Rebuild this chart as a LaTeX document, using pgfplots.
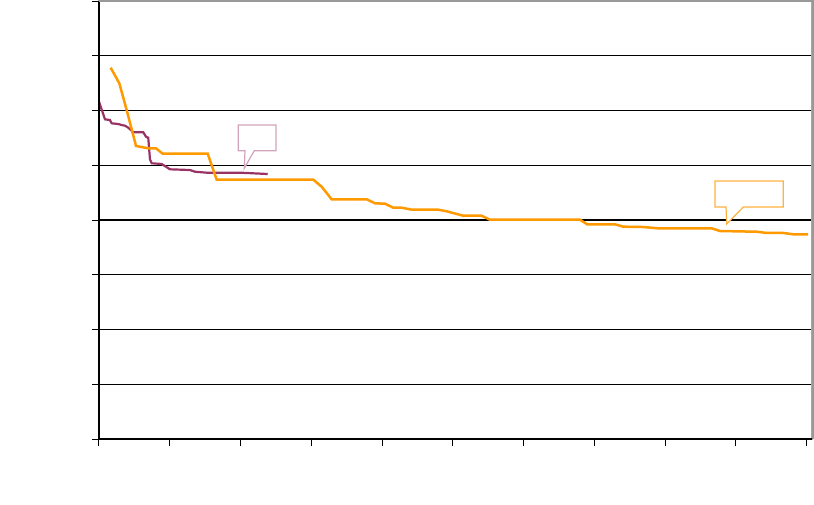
\documentclass[border=0pt]{standalone}
\usepackage{pgfplots}
\pgfplotsset{compat=1.18}
\definecolor{orng}{HTML}{FF9900}
\definecolor{plum}{HTML}{993366}
\begin{document}
\begin{tikzpicture}
\useasboundingbox (-49.5pt,-32.5pt) rectangle (357.5pt,219.5pt);
\begin{axis}[
  at={(0,0)}, anchor=south west,
  scale only axis,
  width=356.5pt, height=219pt,
  xmin=0, xmax=10.075, ymin=0, ymax=8,
  xtick={0,...,10}, ytick={0,...,8},
  xticklabels={}, yticklabels={},
  xtick pos=bottom, ytick pos=left,
  tick align=outside,
  major tick length=3.5pt,
  tick style={black, line width=0.5pt},
  ymajorgrids,
  grid style={black, line width=0.6pt},
  axis line style={gray!70, line width=0.6pt},
  clip=false,
]
\addplot[plum, line width=1.1pt] coordinates {
(0,6.161) (0.024,6.069) (0.085,5.839) (0.155,5.826) (0.179,5.766) (0.273,5.753)
(0.320,5.735) (0.368,5.722) (0.414,5.686) (0.485,5.602) (0.626,5.602) (0.664,5.521)
(0.696,5.503) (0.720,5.109) (0.745,5.036) (0.886,5.023) (1.003,4.926) (1.286,4.913)
(1.356,4.882) (1.522,4.864) (1.993,4.864) (2.180,4.853) (2.384,4.840)
};
\addplot[orng, line width=1.25pt] coordinates {
(0.165,6.782) (0.287,6.497) (0.391,6.009) (0.523,5.352) (0.696,5.310) (0.805,5.310)
(0.900,5.211) (1.536,5.211) (1.663,4.736) (3.029,4.736) (3.146,4.608) (3.288,4.378)
(3.783,4.378) (3.900,4.305) (4.041,4.298) (4.159,4.225) (4.277,4.225) (4.419,4.188)
(4.795,4.188) (4.914,4.159) (5.147,4.078) (5.407,4.078) (5.525,4.005) (6.797,4.005)
(6.899,3.921) (7.291,3.921) (7.408,3.878) (7.691,3.872) (7.903,3.848) (8.657,3.848)
(8.775,3.799) (9.293,3.786) (9.435,3.763) (9.669,3.763) (9.810,3.739) (10.019,3.739)
};
% callouts
\draw[plum!45, fill=white, line width=0.6pt]
  (axis cs:1.969,5.735) -- (axis cs:2.501,5.735) -- (axis cs:2.501,5.266)
  -- (axis cs:2.194,5.266) -- (axis cs:2.053,4.944) -- (axis cs:2.063,5.266)
  -- (axis cs:1.969,5.266) -- cycle;
\draw[orng!75, fill=white, line width=0.6pt]
  (axis cs:8.705,4.712) -- (axis cs:9.669,4.712) -- (axis cs:9.669,4.237)
  -- (axis cs:9.104,4.237) -- (axis cs:8.870,3.927) -- (axis cs:8.860,4.237)
  -- (axis cs:8.705,4.237) -- cycle;
% black left and bottom axis lines
\draw[black, line width=0.6pt] (rel axis cs:0,1) -- (rel axis cs:0,0) -- (rel axis cs:1,0);
\end{axis}
% gray chart-area border (top and right)
\draw[gray!80, line width=1pt] (0,219pt) -- (357pt,219pt) -- (357pt,0);
\end{tikzpicture}
\end{document}
